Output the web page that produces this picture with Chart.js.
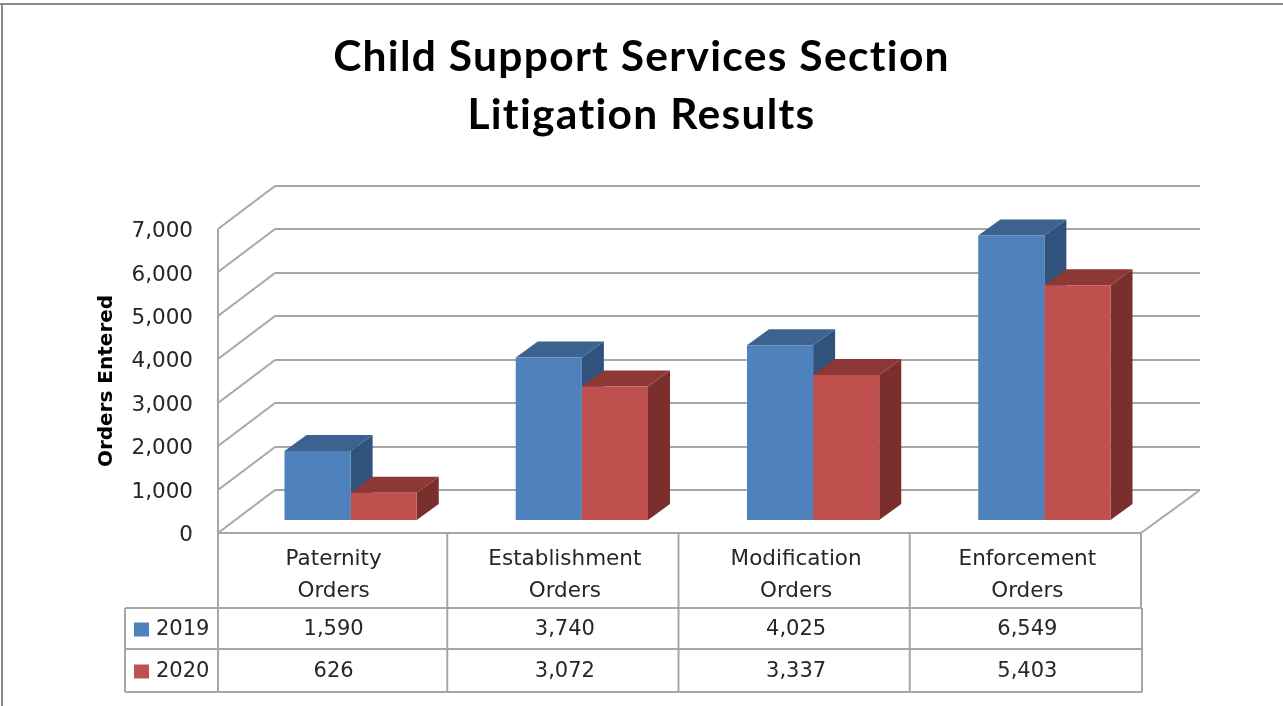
<!DOCTYPE html>
<html>
<head>
<meta charset="utf-8">
<title>Child Support Services Section Litigation Results</title>
<script src="https://cdn.jsdelivr.net/npm/chart.js@4"></script>
<style>
  html, body { margin: 0; background: #fff; }
  canvas { display: block; filter: blur(0.45px); }
</style>
</head>
<body>
<canvas id="litigationChart" width="1283" height="706"></canvas>
<script>
const categories = [
  ["Paternity", "Orders"],
  ["Establishment", "Orders"],
  ["Modification", "Orders"],
  ["Enforcement", "Orders"],
];
const seriesNames = ["2019", "2020"];
const orders2019 = [1590, 3740, 4025, 6549];
const orders2020 = [626, 3072, 3337, 5403];
const seriesValues = [orders2019, orders2020];

const frontColors = ["#4F81BD", "#C0504D"];
const topColors = ["#3C6390", "#8E3836"];
const sideColors = ["#30527C", "#7B2F2D"];

const lineColor = "#a6a6a6";
const textColor = "#262626";
const tableFont = "21px 'DejaVu Sans'";

// 3D look: back wall offset, bar plane offset, bar depth
const wall = { dx: 57, dy: -43 };
const barShift = { dx: 17, dy: -13 };
const barDepth = { dx: 22, dy: -16 };
const rowLines = [608, 649, 692];
const tableLeft = 125;

function line(ctx, x1, y1, x2, y2) {
  ctx.beginPath();
  ctx.moveTo(x1, y1);
  ctx.lineTo(x2, y2);
  ctx.stroke();
}

function face(ctx, color, pts) {
  ctx.fillStyle = color;
  ctx.beginPath();
  pts.forEach((p, i) => (i ? ctx.lineTo(p[0], p[1]) : ctx.moveTo(p[0], p[1])));
  ctx.closePath();
  ctx.fill();
}

const depthPlugin = {
  id: "depth",
  afterInit(chart) {
    // title needs wider spacing than the rest, this also stops the "ti" ligature
    const title = chart.titleBlock;
    const draw = title.draw;
    title.draw = function () {
      this.ctx.letterSpacing = "1.3px";
      draw.call(this);
      this.ctx.letterSpacing = "0px";
    };
  },
  beforeDraw(chart) {
    const ctx = chart.ctx;
    const { left, right, top, bottom } = chart.chartArea;
    const y = chart.scales.y;

    ctx.save();
    ctx.strokeStyle = "#8c8c8c";
    ctx.lineWidth = 2;
    line(ctx, 0, 4, chart.width, 4);
    line(ctx, 2, 4, 2, chart.height);

    // walls and floor
    ctx.strokeStyle = lineColor;
    y.ticks.forEach((t) => {
      const py = Math.round(y.getPixelForValue(t.value));
      line(ctx, left, py, left + wall.dx, py + wall.dy);
      line(ctx, left + wall.dx, py + wall.dy, right + wall.dx, py + wall.dy);
    });
    line(ctx, left, top, left, bottom);
    line(ctx, right - 2, bottom, right + wall.dx, bottom + wall.dy);
    ctx.restore();
  },
  beforeDatasetsDraw(chart) {
    const ctx = chart.ctx;
    ctx.save();
    ctx.translate(barShift.dx, barShift.dy);
    chart.data.datasets.forEach((ds, d) => {
      chart.getDatasetMeta(d).data.forEach((bar) => {
        const x1 = bar.x - bar.width / 2;
        const x2 = bar.x + bar.width / 2;
        const { dx, dy } = barDepth;
        face(ctx, sideColors[d], [[x2, bar.y], [x2 + dx, bar.y + dy], [x2 + dx, bar.base + dy], [x2, bar.base]]);
        face(ctx, topColors[d], [[x1, bar.y], [x1 + dx, bar.y + dy], [x2 + dx, bar.y + dy], [x2, bar.y]]);
      });
    });
  },
  afterDatasetsDraw(chart) {
    chart.ctx.restore();
    drawDataTable(chart);
  },
};

function drawDataTable(chart) {
  const ctx = chart.ctx;
  const { left, right, bottom } = chart.chartArea;
  const x = chart.scales.x;
  const step = (right - left) / categories.length;
  const tableRight = right - 1;

  ctx.save();
  ctx.strokeStyle = lineColor;
  ctx.lineWidth = 2;
  line(ctx, left, bottom, right - 2, bottom);
  categories.forEach((c, i) => {
    const edge = x.getPixelForTick(i) + step / 2 - 2;
    const last = i === categories.length - 1;
    line(ctx, edge, bottom, edge, last ? rowLines[0] : rowLines[2]);
  });
  line(ctx, left, bottom, left, rowLines[2]);
  rowLines.forEach((ry) => line(ctx, tableLeft, ry, tableRight, ry));
  line(ctx, tableLeft, rowLines[0], tableLeft, rowLines[2]);
  line(ctx, tableRight, rowLines[0], tableRight, rowLines[2]);

  ctx.font = tableFont;
  ctx.textBaseline = "middle";
  seriesNames.forEach((name, r) => {
    const cy = (rowLines[r] + rowLines[r + 1]) / 2 + 1;
    ctx.fillStyle = frontColors[r];
    ctx.fillRect(134, cy - 7, 15, 14);
    ctx.fillStyle = textColor;
    ctx.textAlign = "left";
    ctx.fillText(name, 156, cy);
    ctx.textAlign = "center";
    seriesValues[r].forEach((v, i) => {
      ctx.fillText(v.toLocaleString("en-US"), x.getPixelForTick(i), cy);
    });
  });
  ctx.restore();
}

new Chart(document.getElementById("litigationChart"), {
  type: "bar",
  data: {
    labels: categories,
    datasets: seriesNames.map((name, i) => ({
      label: name,
      data: seriesValues[i],
      backgroundColor: frontColors[i],
      borderWidth: 0,
      barPercentage: 1,
      categoryPercentage: 0.572,
      clip: false,
    })),
  },
  options: {
    responsive: false,
    animation: false,
    plugins: {
      legend: { display: false },
      title: {
        display: true,
        text: ["Child Support Services Section", "Litigation Results"],
        color: "#000",
        font: { family: "Lato", size: 42.5, weight: "bold", lineHeight: "58px" },
        padding: { top: 28, bottom: 85 },
      },
    },
    scales: {
      x: {
        afterFit(s) { s.height = 173; },
        grid: { display: false },
        border: { display: false },
        ticks: {
          color: textColor,
          padding: 2,
          maxRotation: 0,
          autoSkip: false,
          font: { family: "DejaVu Sans", size: 21.5, lineHeight: "32px" },
        },
      },
      y: {
        min: 0,
        max: 7000,
        afterFit(s) { s.width = 218; },
        grid: { display: false, drawTicks: false },
        border: { display: false },
        ticks: {
          stepSize: 1000,
          color: textColor,
          padding: 25,
          labelOffset: 2.5,
          font: { family: "DejaVu Sans", size: 21.5 },
        },
        title: {
          display: true,
          text: "Orders Entered",
          color: "#000",
          font: { family: "DejaVu Sans", size: 20, weight: "bold" },
          padding: { top: 95, bottom: 0 },
        },
      },
      // empty axis, keeps the room right of the floor
      rightGap: {
        type: "linear",
        position: "right",
        afterFit(s) { s.width = 140; },
        grid: { display: false },
        border: { display: false },
        ticks: { display: false },
      },
    },
  },
  plugins: [depthPlugin],
});
</script>
</body>
</html>
